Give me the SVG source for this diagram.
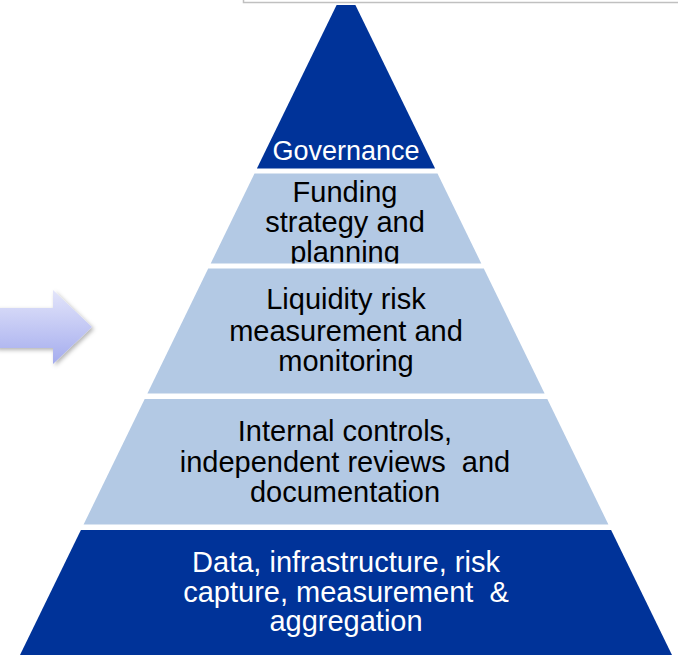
<svg xmlns="http://www.w3.org/2000/svg" width="678" height="656" viewBox="0 0 678 656">
<style>
.dark{fill:#003399}
.light{fill:#b3c9e4}
text{font-family:"Liberation Sans",Arial,sans-serif;font-size:29px;text-anchor:middle}
.w{fill:#ffffff}
.b{fill:#000000}
</style>
<defs>
<linearGradient id="ag" x1="0" y1="0" x2="0" y2="1">
<stop offset="0" stop-color="#e3e5fa"/>
<stop offset="1" stop-color="#a4acee"/>
</linearGradient>
<filter id="sh" x="-20%" y="-20%" width="150%" height="150%">
<feDropShadow dx="2" dy="2" stdDeviation="2" flood-color="#000" flood-opacity="0.3"/>
</filter>
<clipPath id="fc"><rect x="0" y="173.5" width="678" height="90"/></clipPath>
</defs>
<rect width="678" height="656" fill="#ffffff"/>
<rect x="243.5" y="-10" width="450" height="12.5" fill="#ffffff" stroke="#c0c0c0" stroke-width="1.5"/>
<g id="arrow">
<polygon points="-5,308 53,308 53,290 92,327 53,364 53,348 -5,348" fill="url(#ag)" filter="url(#sh)"/>
</g>
<g id="governance">
<polygon class="dark" points="336.6,5 355.4,5 435.1,168.5 256.9,168.5"/>
<text class="w" x="346" y="160" style="font-size:27px">Governance</text>
</g>
<g id="funding">
<polygon class="light" points="254.5,173.5 437.5,173.5 481.3,263.5 210.7,263.5"/>
<g clip-path="url(#fc)">
<text class="b" x="345" y="202">Funding</text>
<text class="b" x="345" y="232">strategy and</text>
<text class="b" x="345" y="262">planning</text>
</g>
</g>
<g id="liquidity">
<polygon class="light" points="208.2,268.5 483.8,268.5 544.6,393.5 147.4,393.5"/>
<text class="b" x="346" y="309">Liquidity risk</text>
<text class="b" x="346" y="341">measurement and</text>
<text class="b" x="346" y="371">monitoring</text>
</g>
<g id="internal">
<polygon class="light" points="144.7,399 547.3,399 608.4,524.5 83.6,524.5"/>
<text class="b" x="345" y="441" xml:space="preserve">Internal controls,</text>
<text class="b" x="345" y="472" xml:space="preserve">independent reviews  and</text>
<text class="b" x="345" y="502">documentation</text>
</g>
<g id="data">
<polygon class="dark" points="80.9,530 611.1,530 672,655 20,655"/>
<text class="w" x="346" y="572">Data, infrastructure, risk</text>
<text class="w" x="346" y="602" xml:space="preserve">capture, measurement  &amp;</text>
<text class="w" x="346" y="631">aggregation</text>
</g>
<g id="connectors"/>
</svg>
